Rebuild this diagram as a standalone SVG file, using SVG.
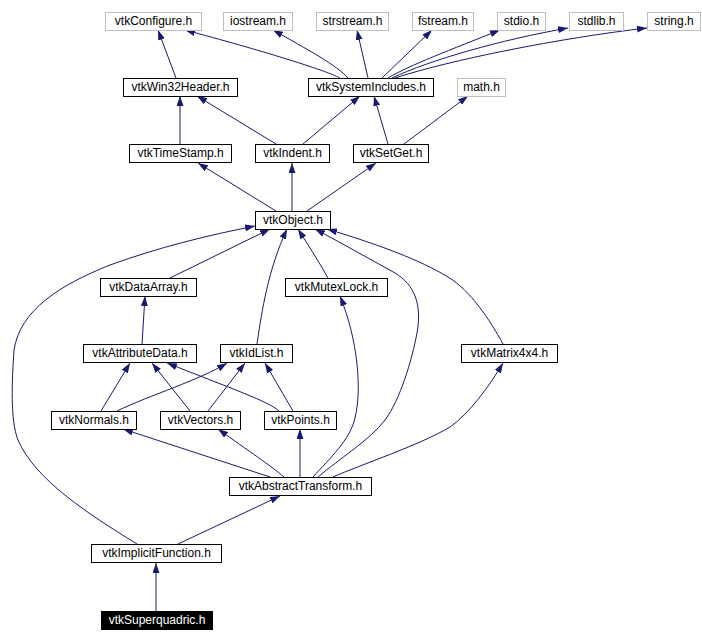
<svg xmlns="http://www.w3.org/2000/svg" width="702" height="642" viewBox="0 0 702 642">
<style>
.n rect{fill:#fff;stroke:#000;stroke-width:1}
.g rect{fill:#fff;stroke:#bfbfbf;stroke-width:1}
.b rect{fill:#000;stroke:#000;stroke-width:1}
text{font-family:"Liberation Sans",Arial,sans-serif;font-size:12px;text-anchor:middle;fill:#000}
.b text{fill:#fff}
#edges path{fill:none;stroke:#191970;stroke-width:1;marker-end:url(#arr)}
</style>
<defs>
<marker id="arr" viewBox="0 0 10 7" refX="10" refY="3.5" markerWidth="10" markerHeight="7" markerUnits="userSpaceOnUse" orient="auto">
<path d="M0,0 L10,3.5 L0,7 z" fill="#191970"/>
</marker>
</defs>
<rect width="702" height="642" fill="#fff"/>
<g id="edges">
<path d="M176,78 L158,30"/>
<path d="M340,78 C325,70 260,50 185,30"/>
<path d="M348,78 C338,66 305,48 273,30"/>
<path d="M368,78 L357,30"/>
<path d="M382,78 L432,30"/>
<path d="M388,78 C410,65 450,50 500,30"/>
<path d="M392,78 C430,60 500,40 568,28"/>
<path d="M395,78 C450,60 560,38 647,28"/>
<path d="M388,144 L374,96"/>
<path d="M404,144 L468,96"/>
<path d="M180,144 L180,96"/>
<path d="M276,144 L197,96"/>
<path d="M303,144 L360,96"/>
<path d="M276,211 L198,163"/>
<path d="M292,211 L292,163"/>
<path d="M307,211 L376,163"/>
<path d="M170,278 L270,229"/>
<path d="M137,544 C90,515 35,480 18,440 C10,420 12,380 14,350 C20,310 60,285 110,265 C160,247 205,236 255,226"/>
<path d="M328,278 C318,260 308,245 298,229"/>
<path d="M257,344 C262,310 268,270 287,229"/>
<path d="M318,477 C340,458 370,440 385,420 C400,400 412,360 417,333 C422,305 415,285 395,273 C375,262 345,245 315,229"/>
<path d="M313,477 C330,458 350,440 355,418 C362,390 358,340 340,296"/>
<path d="M333,477 C360,465 420,445 450,427 C470,413 490,385 503,363"/>
<path d="M503,344 C490,320 470,290 448,277 C420,260 380,245 327,229"/>
<path d="M142,344 L145,296"/>
<path d="M101,411 L130,363"/>
<path d="M117,411 C150,395 200,380 227,363"/>
<path d="M190,411 L152,363"/>
<path d="M208,411 L245,363"/>
<path d="M279,411 C270,402 230,388 167,363"/>
<path d="M293,411 L265,363"/>
<path d="M270,477 L123,429"/>
<path d="M284,477 C270,465 250,452 218,429"/>
<path d="M300,477 L300,429"/>
<path d="M178,544 L280,496"/>
<path d="M156,611 L156,563"/>
</g>
<g id="vtkConfigure" class="g"><rect x="105.5" y="12.5" width="96" height="18"/><text x="153.5" y="25">vtkConfigure.h</text></g>
<g id="iostream" class="g"><rect x="223.5" y="12.5" width="69" height="18"/><text x="258" y="25">iostream.h</text></g>
<g id="strstream" class="g"><rect x="316.5" y="12.5" width="72" height="18"/><text x="352.5" y="25">strstream.h</text></g>
<g id="fstream" class="g"><rect x="412.5" y="12.5" width="61" height="18"/><text x="443" y="25">fstream.h</text></g>
<g id="stdio" class="g"><rect x="497.5" y="12.5" width="48" height="18"/><text x="521.5" y="25">stdio.h</text></g>
<g id="stdlib" class="g"><rect x="569.5" y="12.5" width="54" height="18"/><text x="596.5" y="25">stdlib.h</text></g>
<g id="string" class="g"><rect x="647.5" y="12.5" width="53" height="18"/><text x="674" y="25">string.h</text></g>
<g id="vtkWin32Header" class="n"><rect x="123.5" y="78.5" width="114" height="18"/><text x="180.5" y="91">vtkWin32Header.h</text></g>
<g id="vtkSystemIncludes" class="n"><rect x="308.5" y="78.5" width="125" height="18"/><text x="371" y="91">vtkSystemIncludes.h</text></g>
<g id="math" class="g"><rect x="457.5" y="78.5" width="48" height="18"/><text x="481.5" y="91">math.h</text></g>
<g id="vtkTimeStamp" class="n"><rect x="129.5" y="144.5" width="102" height="18"/><text x="180.5" y="157">vtkTimeStamp.h</text></g>
<g id="vtkIndent" class="n"><rect x="255.5" y="144.5" width="74" height="18"/><text x="292.5" y="157">vtkIndent.h</text></g>
<g id="vtkSetGet" class="n"><rect x="353.5" y="144.5" width="75" height="18"/><text x="391" y="157">vtkSetGet.h</text></g>
<g id="vtkObject" class="n"><rect x="255.5" y="211.5" width="75" height="18"/><text x="293" y="224">vtkObject.h</text></g>
<g id="vtkDataArray" class="n"><rect x="100.5" y="278.5" width="96" height="18"/><text x="148.5" y="291">vtkDataArray.h</text></g>
<g id="vtkMutexLock" class="n"><rect x="285.5" y="278.5" width="102" height="18"/><text x="336.5" y="291">vtkMutexLock.h</text></g>
<g id="vtkAttributeData" class="n"><rect x="83.5" y="344.5" width="113" height="18"/><text x="140" y="357">vtkAttributeData.h</text></g>
<g id="vtkIdList" class="n"><rect x="220.5" y="344.5" width="72" height="18"/><text x="256.5" y="357">vtkIdList.h</text></g>
<g id="vtkMatrix4x4" class="n"><rect x="461.5" y="344.5" width="96" height="18"/><text x="509.5" y="357">vtkMatrix4x4.h</text></g>
<g id="vtkNormals" class="n"><rect x="51.5" y="411.5" width="85" height="18"/><text x="94" y="424">vtkNormals.h</text></g>
<g id="vtkVectors" class="n"><rect x="160.5" y="411.5" width="80" height="18"/><text x="200.5" y="424">vtkVectors.h</text></g>
<g id="vtkPoints" class="n"><rect x="264.5" y="411.5" width="72" height="18"/><text x="300.5" y="424">vtkPoints.h</text></g>
<g id="vtkAbstractTransform" class="n"><rect x="229.5" y="477.5" width="142" height="18"/><text x="300.5" y="490">vtkAbstractTransform.h</text></g>
<g id="vtkImplicitFunction" class="n"><rect x="91.5" y="544.5" width="130" height="18"/><text x="156.5" y="557">vtkImplicitFunction.h</text></g>
<g id="vtkSuperquadric" class="b"><rect x="101.5" y="611.5" width="111" height="18"/><text x="157" y="624">vtkSuperquadric.h</text></g>
</svg>
